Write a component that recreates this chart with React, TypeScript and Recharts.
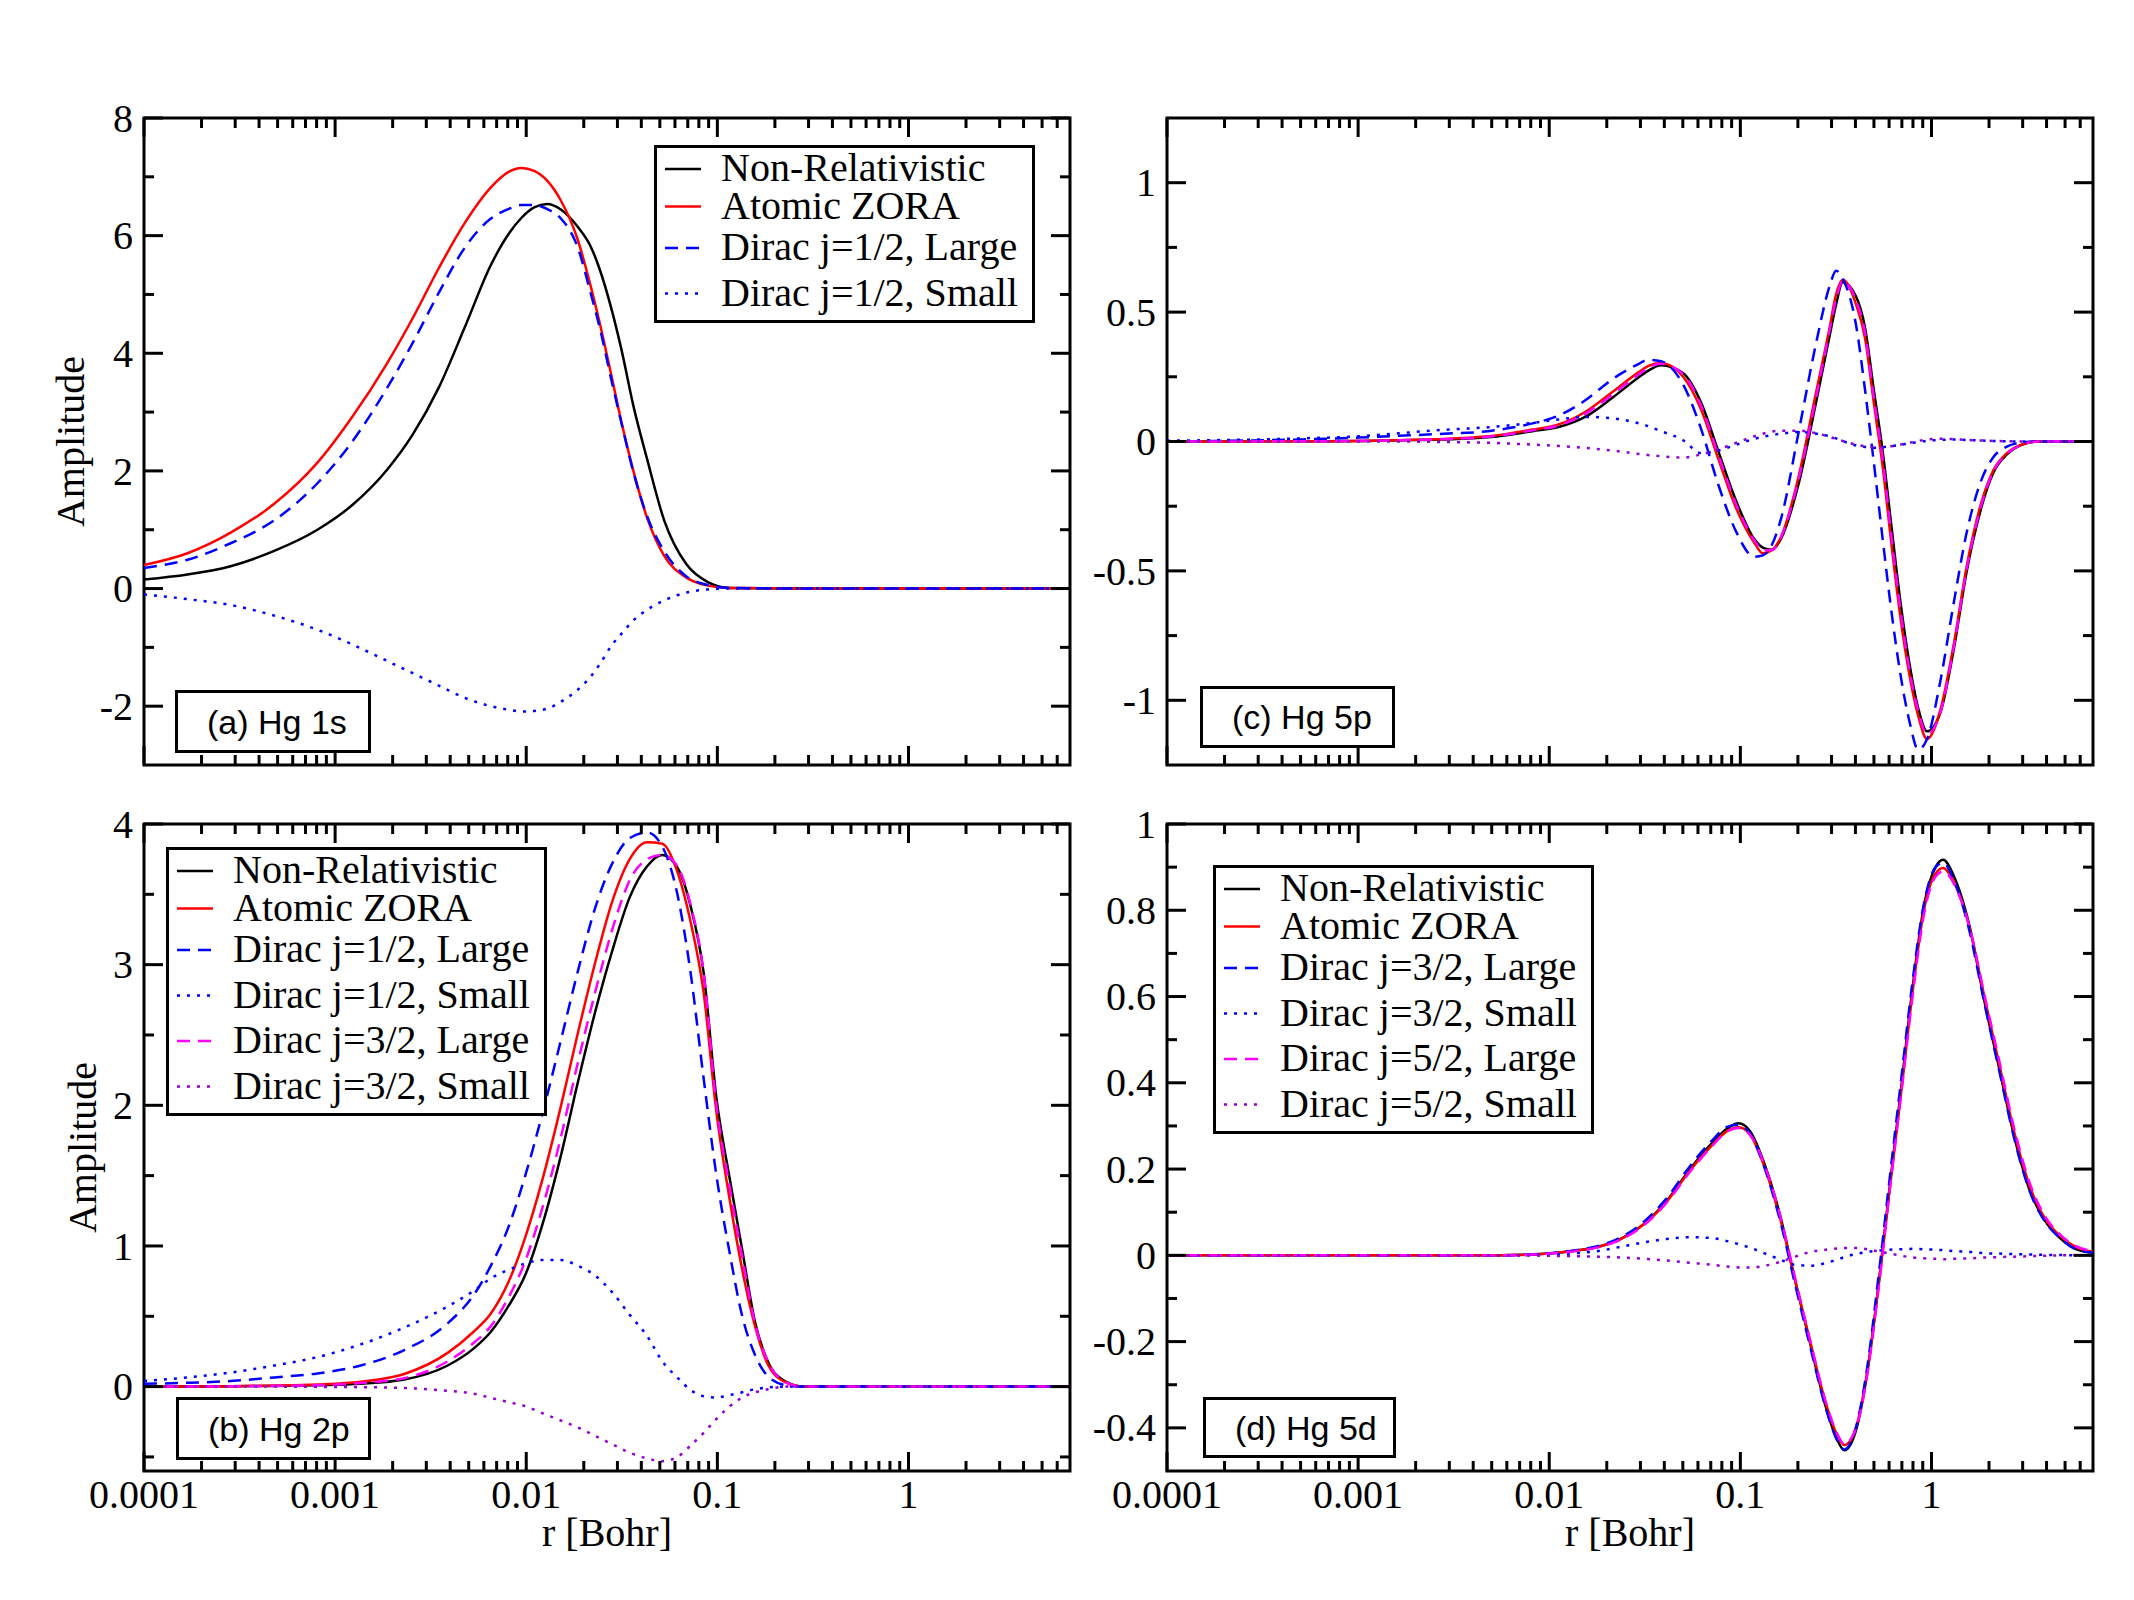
import React from 'react';
import { Legend, Line, LineChart, ReferenceArea, XAxis, YAxis } from 'recharts';

const SERIF = '"Liberation Serif", "DejaVu Serif", "Times New Roman", serif';
const SANS = '"Liberation Sans", Arial, Helvetica, sans-serif';

// r [Bohr] axis, logarithmic
const X_MIN = 1e-4;
const X_MAX = 7;
const xMajor = [0.0001, 0.001, 0.01, 0.1, 1];
const xMinorSteps = [2, 3, 4, 5, 6, 7, 8, 9];
const xMinor = xMajor.flatMap((d) => xMinorSteps.map((k) => k * d)).filter((v) => v < X_MAX);
const xTicks = [...xMajor, ...xMinor];

// (a) Hg 1s
const rA = [1.0e-4, 1.69e-4, 2.84e-4, 4.8e-4, 8.08e-4, 1.23e-3, 1.87e-3, 2.55e-3, 3.49e-3, 4.78e-3, 6.53e-3, 8.05e-3, 9.42e-3, 1.1e-2, 1.29e-2, 1.51e-2, 1.86e-2, 2.17e-2, 2.41e-2, 2.82e-2, 3.13e-2, 3.67e-2, 4.29e-2, 5.28e-2, 6.86e-2, 8.91e-2, 0.116, 0.3, 1, 7];
const nrA = [0.155, 0.24, 0.38, 0.64, 1.0, 1.42, 2.02, 2.62, 3.42, 4.45, 5.5, 6.02, 6.3, 6.48, 6.54, 6.45, 6.15, 5.82, 5.45, 4.7, 4.1, 3.05, 2.2, 1.15, 0.42, 0.11, 0.01, 0, 0, 0];
const zoraA = [0.4, 0.6, 0.95, 1.44, 2.14, 2.92, 3.83, 4.6, 5.45, 6.22, 6.82, 7.08, 7.15, 7.1, 6.93, 6.61, 5.93, 5.15, 4.55, 3.55, 2.87, 1.95, 1.2, 0.55, 0.19, 0.05, 0.01, 0, 0, 0];
const d12LA = [0.35, 0.49, 0.77, 1.16, 1.79, 2.5, 3.41, 4.18, 5.03, 5.8, 6.29, 6.45, 6.52, 6.52, 6.45, 6.3, 5.8, 5.03, 4.47, 3.48, 2.85, 1.93, 1.23, 0.63, 0.21, 0.06, 0.01, 0, 0, 0];
const d12SA = [-0.1, -0.18, -0.28, -0.46, -0.7, -0.95, -1.23, -1.44, -1.65, -1.86, -2.0, -2.06, -2.09, -2.08, -2.04, -1.93, -1.72, -1.5, -1.3, -0.95, -0.78, -0.53, -0.36, -0.2, -0.07, -0.015, 0, 0, 0, 0];

// (b) Hg 2p
const rB = [1e-4, 1.69e-4, 2.84e-4, 4.8e-4, 8.08e-4, 1.36e-3, 2.3e-3, 3.88e-3, 5.3e-3, 6.53e-3, 8.05e-3, 9.93e-3, 1.22e-2, 1.51e-2, 1.86e-2, 2.29e-2, 2.82e-2, 3.48e-2, 4.29e-2, 5.15e-2, 6.18e-2, 7.23e-2, 8.46e-2, 9.89e-2, 0.116, 0.135, 0.158, 0.185, 0.228, 0.281, 1, 7];
const nrB = [0, 0, 0.002, 0.005, 0.01, 0.02, 0.05, 0.15, 0.27, 0.39, 0.57, 0.8, 1.16, 1.63, 2.16, 2.66, 3.1, 3.48, 3.7, 3.78, 3.69, 3.42, 2.95, 2.05, 1.48, 0.97, 0.45, 0.17, 0.035, 0, 0, 0];
const zoraB = [0, 0.001, 0.003, 0.007, 0.015, 0.035, 0.09, 0.24, 0.39, 0.52, 0.74, 1.07, 1.48, 1.98, 2.51, 3.01, 3.45, 3.75, 3.87, 3.86, 3.66, 3.31, 2.81, 1.95, 1.33, 0.83, 0.42, 0.15, 0.03, 0, 0, 0];
const d12LB = [0.02, 0.027, 0.04, 0.065, 0.094, 0.15, 0.26, 0.45, 0.65, 0.86, 1.13, 1.51, 1.95, 2.45, 2.95, 3.4, 3.72, 3.9, 3.94, 3.84, 3.5, 2.95, 2.2, 1.5, 0.95, 0.5, 0.22, 0.07, 0.01, 0, 0, 0];
const d12SB = [0.04, 0.065, 0.1, 0.15, 0.21, 0.3, 0.42, 0.57, 0.68, 0.77, 0.83, 0.875, 0.9, 0.9, 0.86, 0.79, 0.67, 0.51, 0.36, 0.18, 0.065, -0.024, -0.068, -0.077, -0.06, -0.04, -0.018, -0.006, 0, 0, 0, 0];
const d32LB = [0, 0, 0.002, 0.005, 0.01, 0.025, 0.06, 0.18, 0.31, 0.43, 0.63, 0.9, 1.28, 1.76, 2.3, 2.8, 3.25, 3.6, 3.75, 3.78, 3.7, 3.43, 2.95, 2.0, 1.42, 0.92, 0.44, 0.17, 0.03, 0, 0, 0];
const d32SB = [0, 0, 0, 0, -0.002, -0.004, -0.01, -0.03, -0.05, -0.08, -0.11, -0.14, -0.19, -0.24, -0.29, -0.35, -0.41, -0.47, -0.51, -0.53, -0.5, -0.42, -0.33, -0.23, -0.14, -0.077, -0.04, -0.018, 0, 0, 0, 0];

// (c) Hg 5p
const rC = [1e-4, 5e-4, 1e-3, 1.64e-3, 2.8e-3, 4.79e-3, 8.17e-3, 1.12e-2, 1.55e-2, 2.13e-2, 2.94e-2, 3.27e-2, 3.84e-2, 5.02e-2, 6.22e-2, 7.69e-2, 9.53e-2, 0.118, 0.131, 0.146, 0.163, 0.201, 0.249, 0.293, 0.317, 0.343, 0.403, 0.449, 0.499, 0.556, 0.618, 0.688, 0.766, 0.852, 0.948, 1.11, 1.31, 1.53, 1.8, 2.11, 2.48, 2.91, 3.6, 6.15, 7];
const nrC = [0, 0.001, 0.002, 0.005, 0.008, 0.016, 0.04, 0.056, 0.096, 0.168, 0.248, 0.272, 0.295, 0.264, 0.152, -0.04, -0.232, -0.376, -0.41, -0.418, -0.376, -0.168, 0.152, 0.408, 0.53, 0.615, 0.56, 0.44, 0.2, -0.04, -0.33, -0.62, -0.856, -1.03, -1.12, -1.05, -0.8, -0.5, -0.27, -0.12, -0.05, -0.015, 0, 0, 0];
const zoraC = [0, 0.001, 0.002, 0.005, 0.01, 0.02, 0.046, 0.066, 0.115, 0.19, 0.268, 0.29, 0.303, 0.25, 0.125, -0.07, -0.26, -0.39, -0.432, -0.42, -0.37, -0.14, 0.19, 0.44, 0.57, 0.625, 0.53, 0.4, 0.15, -0.1, -0.4, -0.68, -0.9, -1.06, -1.15, -1.04, -0.78, -0.48, -0.25, -0.11, -0.045, -0.014, 0, 0, 0];
const d12LC = [0, 0.008, 0.015, 0.022, 0.03, 0.04, 0.07, 0.1, 0.16, 0.24, 0.3, 0.316, 0.31, 0.22, 0.05, -0.17, -0.35, -0.445, -0.44, -0.4, -0.3, 0.03, 0.38, 0.6, 0.66, 0.63, 0.45, 0.2, -0.08, -0.38, -0.66, -0.9, -1.08, -1.19, -1.15, -0.93, -0.62, -0.35, -0.16, -0.06, -0.02, -0.005, 0, 0, 0];
const d12SC = [0.003, 0.012, 0.02, 0.032, 0.045, 0.055, 0.072, 0.085, 0.095, 0.09, 0.07, 0.06, 0.04, 0.005, -0.045, -0.035, -0.012, 0.01, 0.018, 0.025, 0.03, 0.037, 0.03, 0.02, 0.012, 0.002, -0.015, -0.021, -0.024, -0.022, -0.018, -0.013, -0.007, -0.002, 0.003, 0.006, 0.008, 0.006, 0.004, 0.002, 0.001, 0, 0, 0, 0];
const d32LC = [0, 0.001, 0.002, 0.005, 0.009, 0.018, 0.043, 0.062, 0.108, 0.18, 0.26, 0.282, 0.3, 0.26, 0.14, -0.055, -0.245, -0.38, -0.42, -0.42, -0.37, -0.15, 0.17, 0.43, 0.55, 0.62, 0.545, 0.42, 0.17, -0.07, -0.37, -0.65, -0.88, -1.04, -1.13, -1.05, -0.79, -0.49, -0.26, -0.115, -0.047, -0.015, 0, 0, 0];
const d32SC = [0, 0, 0, 0, -0.002, -0.005, -0.012, -0.017, -0.025, -0.035, -0.048, -0.052, -0.057, -0.062, -0.05, -0.03, -0.005, 0.02, 0.03, 0.038, 0.042, 0.042, 0.032, 0.018, 0.01, 0.002, -0.012, -0.018, -0.022, -0.022, -0.018, -0.012, -0.005, 0.002, 0.008, 0.011, 0.009, 0.006, 0.004, 0.002, 0.001, 0, 0, 0, 0];

// (d) Hg 5d
const rD = [1e-4, 1e-3, 5.53e-3, 0.01, 1.38e-2, 1.81e-2, 2.38e-2, 3.13e-2, 4.11e-2, 5.41e-2, 7.1e-2, 8.53e-2, 9.78e-2, 0.112, 0.135, 0.162, 0.194, 0.232, 0.279, 0.32, 0.35, 0.402, 0.461, 0.528, 0.605, 0.695, 0.796, 0.913, 1.05, 1.15, 1.31, 1.58, 1.89, 2.27, 2.73, 3.27, 3.93, 4.71, 5.65, 7];
const nrD = [0, 0, 0, 0.004, 0.011, 0.02, 0.039, 0.073, 0.126, 0.198, 0.26, 0.294, 0.306, 0.289, 0.207, 0.09, -0.061, -0.205, -0.349, -0.426, -0.452, -0.407, -0.273, -0.07, 0.16, 0.39, 0.62, 0.81, 0.9, 0.917, 0.879, 0.764, 0.59, 0.43, 0.27, 0.15, 0.08, 0.04, 0.015, 0.006];
const zoraD = [0, 0, 0, 0.004, 0.011, 0.02, 0.038, 0.072, 0.124, 0.195, 0.255, 0.288, 0.297, 0.281, 0.2, 0.083, -0.06, -0.2, -0.34, -0.415, -0.44, -0.4, -0.27, -0.072, 0.155, 0.38, 0.61, 0.8, 0.885, 0.898, 0.865, 0.76, 0.6, 0.44, 0.28, 0.16, 0.085, 0.045, 0.02, 0.008];
const d32LD = [0, 0, 0, 0.005, 0.012, 0.022, 0.042, 0.078, 0.132, 0.205, 0.266, 0.298, 0.303, 0.283, 0.198, 0.078, -0.07, -0.212, -0.352, -0.428, -0.45, -0.4, -0.26, -0.05, 0.18, 0.41, 0.635, 0.815, 0.9, 0.91, 0.87, 0.752, 0.585, 0.425, 0.265, 0.148, 0.078, 0.04, 0.015, 0.006];
const d32SD = [0, 0, 0, 0.002, 0.005, 0.01, 0.02, 0.03, 0.038, 0.042, 0.04, 0.033, 0.026, 0.018, 0.004, -0.01, -0.022, -0.024, -0.018, -0.01, -0.004, 0.003, 0.008, 0.011, 0.013, 0.014, 0.015, 0.014, 0.013, 0.012, 0.01, 0.008, 0.005, 0.004, 0.003, 0.002, 0.001, 0.001, 0, 0];
const d52LD = [0, 0, 0, 0.004, 0.01, 0.019, 0.037, 0.07, 0.122, 0.192, 0.253, 0.287, 0.295, 0.28, 0.205, 0.09, -0.055, -0.198, -0.338, -0.412, -0.438, -0.402, -0.278, -0.08, 0.15, 0.375, 0.6, 0.79, 0.878, 0.89, 0.862, 0.762, 0.605, 0.448, 0.288, 0.167, 0.09, 0.048, 0.022, 0.01];
const d52SD = [0, 0, 0, -0.001, -0.002, -0.003, -0.005, -0.008, -0.012, -0.017, -0.022, -0.026, -0.028, -0.028, -0.024, -0.015, -0.003, 0.008, 0.013, 0.016, 0.017, 0.017, 0.014, 0.009, 0.004, -0.001, -0.005, -0.007, -0.008, -0.009, -0.008, -0.007, -0.005, -0.004, -0.003, -0.002, -0.001, 0, 0, 0];

// y ticks per panel
const yMajorA = [-2, 0, 2, 4, 6, 8];
const yMinorA = [-1, 1, 3, 5, 7];
const yMajorB = [0, 1, 2, 3, 4];
const yMinorB = [-0.5, 0.5, 1.5, 2.5, 3.5];
const yMajorC = [-1, -0.5, 0, 0.5, 1];
const yMinorC = [-0.75, -0.25, 0.25, 0.75];
const yMajorD = [-0.4, -0.2, 0, 0.2, 0.4, 0.6, 0.8, 1];
const yMinorD = [-0.3, -0.1, 0.1, 0.3, 0.5, 0.7, 0.9];

type Row = Record<string, number>;

function buildRows(r: number[], cols: Record<string, number[]>): Row[] {
  return r.map((rv, i) => {
    const row: Row = { r: rv };
    Object.keys(cols).forEach((k) => {
      row[k] = cols[k][i];
    });
    return row;
  });
}

const dataA = buildRows(rA, { nr: nrA, zora: zoraA, d12L: d12LA, d12S: d12SA });
const dataB = buildRows(rB, { nr: nrB, zora: zoraB, d12L: d12LB, d12S: d12SB, d32L: d32LB, d32S: d32SB });
const dataC = buildRows(rC, { nr: nrC, zora: zoraC, d12L: d12LC, d12S: d12SC, d32L: d32LC, d32S: d32SC });
const dataD = buildRows(rD, { nr: nrD, zora: zoraD, d32L: d32LD, d32S: d32SD, d52L: d52LD, d52S: d52SD });

type SeriesStyle = { key: string; name: string; color: string; dash?: string };

const DASH = '13 8';
const DOT = '3 7';
const BLACK = '#000000';
const RED = '#ff0000';
const BLUE = '#0000ff';
const MAGENTA = '#ff00ff';
const VIOLET = '#9400d3';

const seriesA: SeriesStyle[] = [
  { key: 'nr', name: 'Non-Relativistic', color: BLACK },
  { key: 'zora', name: 'Atomic ZORA', color: RED },
  { key: 'd12L', name: 'Dirac j=1/2, Large', color: BLUE, dash: DASH },
  { key: 'd12S', name: 'Dirac j=1/2, Small', color: BLUE, dash: DOT },
];
const seriesB: SeriesStyle[] = [
  ...seriesA,
  { key: 'd32L', name: 'Dirac j=3/2, Large', color: MAGENTA, dash: DASH },
  { key: 'd32S', name: 'Dirac j=3/2, Small', color: VIOLET, dash: DOT },
];
const seriesD: SeriesStyle[] = [
  { key: 'nr', name: 'Non-Relativistic', color: BLACK },
  { key: 'zora', name: 'Atomic ZORA', color: RED },
  { key: 'd32L', name: 'Dirac j=3/2, Large', color: BLUE, dash: DASH },
  { key: 'd32S', name: 'Dirac j=3/2, Small', color: BLUE, dash: DOT },
  { key: 'd52L', name: 'Dirac j=5/2, Large', color: MAGENTA, dash: DASH },
  { key: 'd52S', name: 'Dirac j=5/2, Small', color: VIOLET, dash: DOT },
];

// frame geometry shared by all four panels
const PLOT_W = 926;
const PLOT_H = 647;
const AXIS_W = 144;
const TOP_PAD = 40;
const RIGHT_PAD = 20;
const BOTTOM_H = 100;
const CHART_W = AXIS_W + PLOT_W + RIGHT_PAD;
const CHART_H = TOP_PAD + PLOT_H + BOTTOM_H;
const MAJOR_LEN = 19;
const MINOR_LEN = 10;

function makeXTick(showLabels: boolean) {
  return (props: any) => {
    const { x, y, payload } = props;
    const v = payload.value as number;
    const major = xMajor.includes(v);
    const len = major ? MAJOR_LEN : MINOR_LEN;
    return (
      <g>
        <line x1={x} y1={y} x2={x} y2={y - len} stroke="#000" strokeWidth={3} />
        <line x1={x} y1={y - PLOT_H} x2={x} y2={y - PLOT_H + len} stroke="#000" strokeWidth={3} />
        {showLabels && major && (
          <text x={x} y={y + 37} textAnchor="middle" fontFamily={SERIF} fontSize={40} fill="#000">
            {String(v)}
          </text>
        )}
      </g>
    );
  };
}

function makeYTick(majors: number[]) {
  return (props: any) => {
    const { x, y, payload } = props;
    const v = payload.value as number;
    const major = majors.includes(v);
    const len = major ? MAJOR_LEN : MINOR_LEN;
    return (
      <g>
        <line x1={x} y1={y} x2={x + len} y2={y} stroke="#000" strokeWidth={3} />
        <line x1={x + PLOT_W} y1={y} x2={x + PLOT_W - len} y2={y} stroke="#000" strokeWidth={3} />
        {major && (
          <text x={x - 11} y={y} dy="0.34em" textAnchor="end" fontFamily={SERIF} fontSize={40} fill="#000">
            {String(v)}
          </text>
        )}
      </g>
    );
  };
}

function XTitle(props: any) {
  const vb = props.viewBox || {};
  return (
    <text x={vb.x + vb.width / 2} y={vb.y + 75} textAnchor="middle" fontFamily={SERIF} fontSize={40} fill="#000">
      r [Bohr]
    </text>
  );
}

function YTitle(props: any) {
  const vb = props.viewBox || {};
  const bx = vb.x + vb.width - props.gap;
  const cy = vb.y + vb.height / 2;
  return (
    <text
      x={bx}
      y={cy}
      transform={`rotate(-90, ${bx}, ${cy})`}
      textAnchor="middle"
      fontFamily={SERIF}
      fontSize={40}
      fill="#000"
    >
      Amplitude
    </text>
  );
}

function LegendBox({ series }: { series: SeriesStyle[] }) {
  // rows with descenders (j, g, comma) sit a little further apart
  const desc = series.map((s) => /[gj,]/.test(s.name));
  const ys: number[] = [];
  let y = 24;
  series.forEach((_, i) => {
    if (i > 0) y += 37.5 + (desc[i - 1] ? 4 : 0) + (desc[i] ? 4 : 0);
    ys.push(y);
  });
  const h = Math.round(y + 29);
  const w = 381;
  return (
    <svg width={w} height={h} style={{ display: 'block' }}>
      <rect x={1.5} y={1.5} width={w - 3} height={h - 3} fill="#fff" stroke="#000" strokeWidth={3} />
      {series.map((s, i) => (
        <g key={s.key}>
          <line x1={11} x2={47} y1={ys[i]} y2={ys[i]} stroke={s.color} strokeWidth={2.5} strokeDasharray={s.dash} />
          <text x={67} y={ys[i] + 12} fontFamily={SERIF} fontSize={40} fill="#000">
            {s.name}
          </text>
        </g>
      ))}
    </svg>
  );
}

interface PanelProps {
  left: number;
  top: number;
  data: Row[];
  series: SeriesStyle[];
  yDomain: [number, number];
  yMajor: number[];
  yMinor: number[];
  xLabels: boolean;
  yTitleGap?: number;
  legendAt?: { left: number; top: number };
}

function Panel({ left, top, data, series, yDomain, yMajor, yMinor, xLabels, yTitleGap, legendAt }: PanelProps) {
  return (
    <div style={{ position: 'absolute', left, top, width: CHART_W, height: CHART_H }}>
      <LineChart
        width={CHART_W}
        height={CHART_H}
        data={data}
        margin={{ top: TOP_PAD, right: RIGHT_PAD, bottom: 0, left: 0 }}
      >
        <XAxis
          dataKey="r"
          type="number"
          scale="log"
          domain={[X_MIN, X_MAX]}
          allowDataOverflow
          ticks={xTicks}
          interval={0}
          height={BOTTOM_H}
          tickSize={0}
          tickMargin={0}
          tickLine={false}
          axisLine={false}
          tick={makeXTick(xLabels)}
          label={xLabels ? <XTitle /> : undefined}
        />
        <YAxis
          type="number"
          domain={yDomain}
          allowDataOverflow
          ticks={[...yMajor, ...yMinor]}
          interval={0}
          width={AXIS_W}
          tickSize={0}
          tickMargin={0}
          tickLine={false}
          axisLine={false}
          tick={makeYTick(yMajor)}
          label={yTitleGap !== undefined ? <YTitle gap={yTitleGap} /> : undefined}
        />
        <ReferenceArea
          x1={X_MIN}
          x2={X_MAX}
          y1={yDomain[0]}
          y2={yDomain[1]}
          fill="none"
          stroke="#000"
          strokeWidth={3}
          ifOverflow="visible"
        />
        {series.map((s) => (
          <Line
            key={s.key}
            type="monotone"
            dataKey={s.key}
            name={s.name}
            stroke={s.color}
            strokeWidth={2.5}
            strokeDasharray={s.dash}
            dot={false}
            activeDot={false}
            isAnimationActive={false}
          />
        ))}
        {legendAt && (
          <Legend
            layout="vertical"
            align="center"
            verticalAlign="middle"
            wrapperStyle={{ left: legendAt.left, top: legendAt.top }}
            content={() => <LegendBox series={series} />}
          />
        )}
      </LineChart>
    </div>
  );
}

function PanelTag({ left, top, width, height, text }: { left: number; top: number; width: number; height: number; text: string }) {
  return (
    <div
      style={{
        position: 'absolute',
        left,
        top,
        width,
        height,
        boxSizing: 'border-box',
        border: '3px solid #000',
        background: '#fff',
        display: 'flex',
        alignItems: 'center',
        paddingLeft: 29,
        fontFamily: SANS,
        fontSize: 34,
        color: '#000',
        lineHeight: 1,
      }}
    >
      {text}
    </div>
  );
}

export default function App() {
  return (
    <div style={{ position: 'absolute', left: 0, top: 0, width: 2134, height: 1600, background: '#fff' }}>
      <Panel
        left={0}
        top={78}
        data={dataA}
        series={seriesA}
        yDomain={[-3, 8]}
        yMajor={yMajorA}
        yMinor={yMinorA}
        xLabels={false}
        yTitleGap={60}
        legendAt={{ left: 654, top: 67 }}
      />
      <Panel
        left={1023}
        top={78}
        data={dataC}
        series={seriesB}
        yDomain={[-1.25, 1.25]}
        yMajor={yMajorC}
        yMinor={yMinorC}
        xLabels={false}
      />
      <Panel
        left={0}
        top={784}
        data={dataB}
        series={seriesB}
        yDomain={[-0.6, 4]}
        yMajor={yMajorB}
        yMinor={yMinorB}
        xLabels
        yTitleGap={48}
        legendAt={{ left: 166, top: 63 }}
      />
      <Panel
        left={1023}
        top={784}
        data={dataD}
        series={seriesD}
        yDomain={[-0.5, 1]}
        yMajor={yMajorD}
        yMinor={yMinorD}
        xLabels
        legendAt={{ left: 190, top: 81 }}
      />
      <PanelTag left={175} top={690} width={196} height={63} text="(a) Hg 1s" />
      <PanelTag left={1200} top={686} width={195} height={62} text="(c) Hg 5p" />
      <PanelTag left={176} top={1397} width={195} height={63} text="(b) Hg 2p" />
      <PanelTag left={1203} top={1397} width={193} height={61} text="(d) Hg 5d" />
    </div>
  );
}
